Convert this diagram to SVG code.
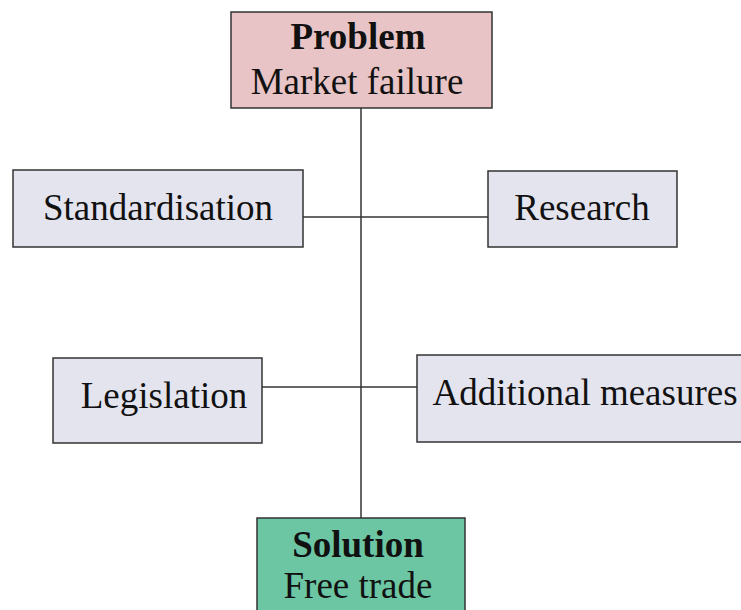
<svg xmlns="http://www.w3.org/2000/svg" width="741" height="610" viewBox="0 0 741 610">
<style>
.box{stroke:#333;stroke-width:1.5}
.plain{fill:#E4E4EF}
.t{font-family:"Liberation Serif","Times New Roman",serif;font-size:37px;fill:#111;text-anchor:middle}
.b{font-weight:bold}
.c{stroke:#333;stroke-width:1.5;fill:none}
</style>
<rect width="741" height="610" fill="#fff"/>
<g id="connectors">
<line class="c" x1="361" y1="108" x2="361" y2="518"/>
<line class="c" x1="303" y1="217" x2="488" y2="217"/>
<line class="c" x1="262" y1="387" x2="417" y2="387"/>
</g>
<g id="problem">
<rect class="box" x="231" y="12" width="261" height="96" fill="#E8C4C6"/>
<text class="t b" x="358" y="49">Problem</text>
<text class="t" x="357" y="94">Market failure</text>
</g>
<g id="standardisation">
<rect class="box plain" x="13" y="170" width="290" height="77"/>
<text class="t" x="158" y="220">Standardisation</text>
</g>
<g id="research">
<rect class="box plain" x="488" y="171" width="189" height="76"/>
<text class="t" x="582" y="220">Research</text>
</g>
<g id="legislation">
<rect class="box plain" x="53" y="358" width="209" height="85"/>
<text class="t" x="164" y="408">Legislation</text>
</g>
<g id="additional">
<rect class="box plain" x="417" y="355" width="340" height="87"/>
<text class="t" x="585" y="405">Additional measures</text>
</g>
<g id="solution">
<rect class="box" x="257" y="518" width="208" height="100" fill="#6CC6A4"/>
<text class="t b" x="358" y="557">Solution</text>
<text class="t" x="358" y="598">Free trade</text>
</g>
</svg>
